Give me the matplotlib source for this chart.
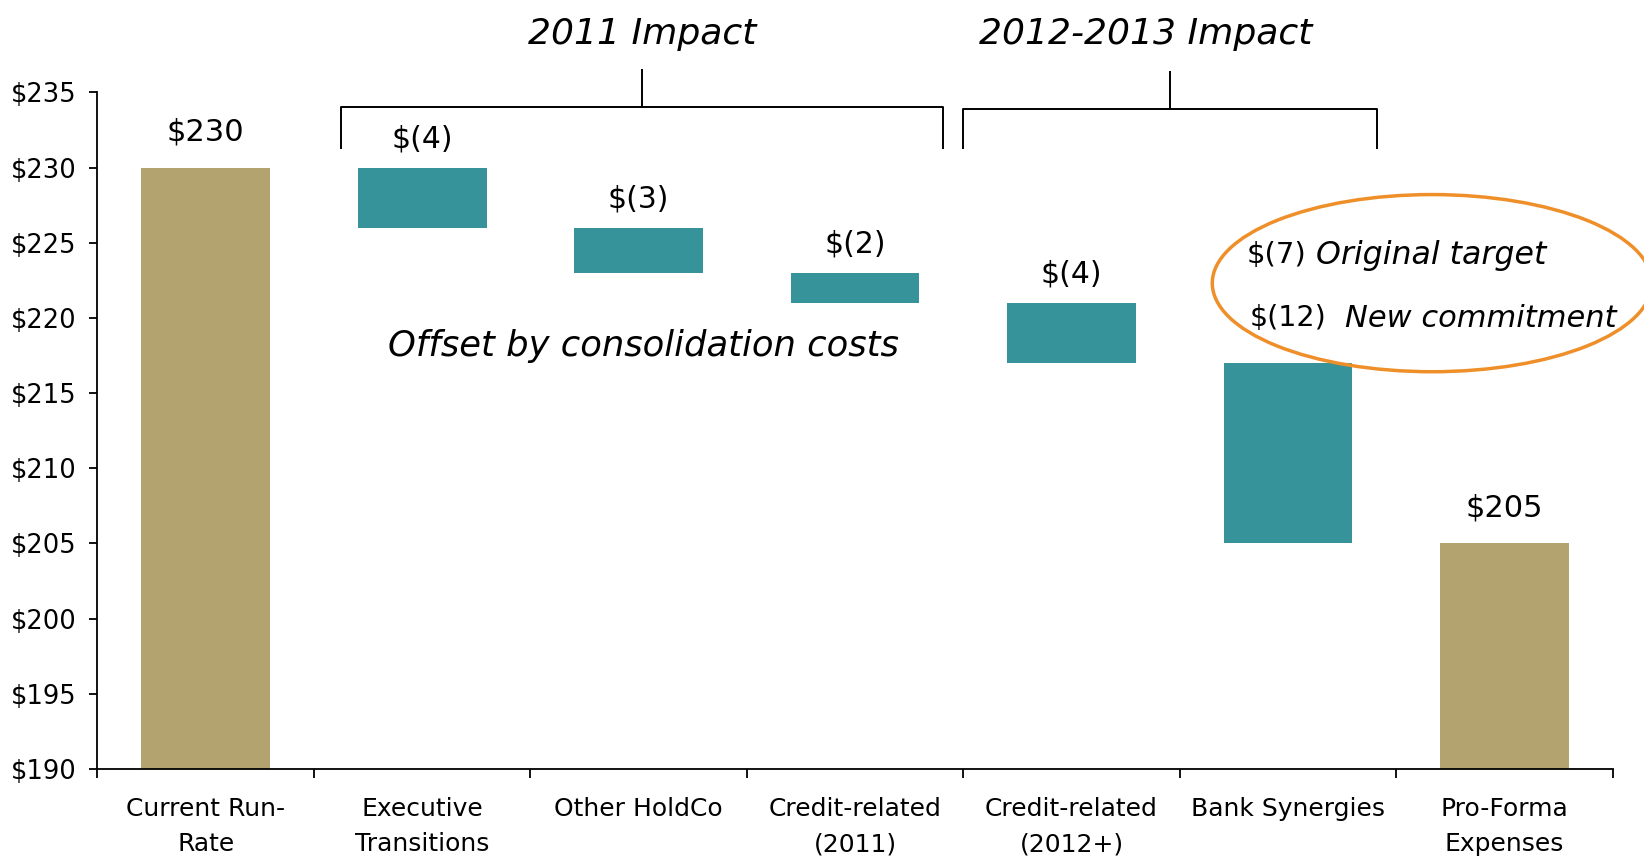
import matplotlib
matplotlib.use('Agg')
import matplotlib.pyplot as plt
from matplotlib.patches import Ellipse
import numpy as np

# ---- data ----
categories = ["Current Run-\nRate", "Executive\nTransitions", "Other HoldCo",
              "Credit-related\n(2011)", "Credit-related\n(2012+)", "Bank Synergies",
              "Pro-Forma\nExpenses"]
start_total = 230
changes = [-4, -3, -2, -4, -12]
end_total = 205
value_labels = ["$230", "$(4)", "$(3)", "$(2)", "$(4)", None, "$205"]
y_ticks = [190, 195, 200, 205, 210, 215, 220, 225, 230, 235]
y_tick_labels = ["$" + str(v) for v in y_ticks]
group_titles = ["2011 Impact", "2012-2013 Impact"]
note_text = "Offset by consolidation costs"
oval_values = ["$(7)", "$(12)"]
oval_texts = ["Original target", "New commitment"]

TAN = "#B3A46F"
TEAL = "#37939A"
ORANGE = "#EF8F2A"

fig = plt.figure(figsize=(16.44, 8.58), dpi=100)
ax = fig.add_axes([0.0593, 0.1037, 0.9216, 0.7887])

x = np.arange(len(categories))
bottoms, heights, colors, is_total = [], [], [], []
bottoms.append(0); heights.append(start_total); colors.append(TAN); is_total.append(True)
running = start_total
for c in changes:
    bottoms.append(running + c); heights.append(-c); colors.append(TEAL); is_total.append(False)
    running += c
bottoms.append(0); heights.append(end_total); colors.append(TAN); is_total.append(True)

ax.bar(x, heights, bottom=bottoms, width=0.595, color=colors, linewidth=0)

for xi, b, h, lab, tot in zip(x, bottoms, heights, value_labels, is_total):
    if lab is None:
        continue
    off = 2.35 if tot else 1.9
    ax.text(xi, b + h + off, lab, ha='center', va='center',
            fontsize=22 if tot else 21.5)

ax.set_xlim(-0.5, 6.5)
ax.set_ylim(190, 235)
ax.set_yticks(y_ticks)
ax.set_yticklabels(y_tick_labels)
ax.tick_params(axis='y', direction='out', length=6, width=1.3, pad=9, labelsize=18.5)
ax.set_xticks(x)
ax.set_xticklabels(categories, fontsize=18, linespacing=1.6)
ax.tick_params(axis='x', which='major', length=0, pad=20)
ax.set_xticks(np.arange(-0.5, 7, 1), minor=True)
ax.tick_params(axis='x', which='minor', direction='out', length=6.5, width=1.3)
for s in ['top', 'right']:
    ax.spines[s].set_visible(False)
for s in ['left', 'bottom']:
    ax.spines[s].set_linewidth(1.3)

# brackets
def bracket(x0, x1, xm, ybar, ylow, ytop):
    kw = dict(color='black', lw=1.4, clip_on=False, solid_capstyle='butt')
    ax.plot([x0, x0, x1, x1], [ylow, ybar, ybar, ylow], **kw)
    ax.plot([xm, xm], [ybar, ytop], **kw)

bracket(0.624, 3.408, 2.018, 234.0, 231.2, 236.55)
bracket(3.498, 5.412, 4.456, 233.9, 231.2, 236.4)
ax.text(2.018, 238.9, group_titles[0], ha='center', va='center', fontsize=26,
        style='italic', clip_on=False)
ax.text(4.341, 238.9, group_titles[1], ha='center', va='center', fontsize=26,
        style='italic', clip_on=False)

ax.text(2.023, 218.1, note_text, ha='center', va='center', fontsize=25.5, style='italic')

ell = Ellipse((5.666, 222.31), 2.031, 11.78, fill=False, edgecolor=ORANGE,
              lw=2.5, clip_on=False)
ax.add_patch(ell)
ax.text(4.808, 224.17, oval_values[0], ha='left', va='center', fontsize=21)
ax.text(5.131, 224.17, oval_texts[0], ha='left', va='center', fontsize=22.8, style='italic')
ax.text(4.822, 219.98, oval_values[1], ha='left', va='center', fontsize=20.5)
ax.text(5.264, 219.98, oval_texts[1], ha='left', va='center', fontsize=22, style='italic')

fig.savefig('out.png', dpi=100)
